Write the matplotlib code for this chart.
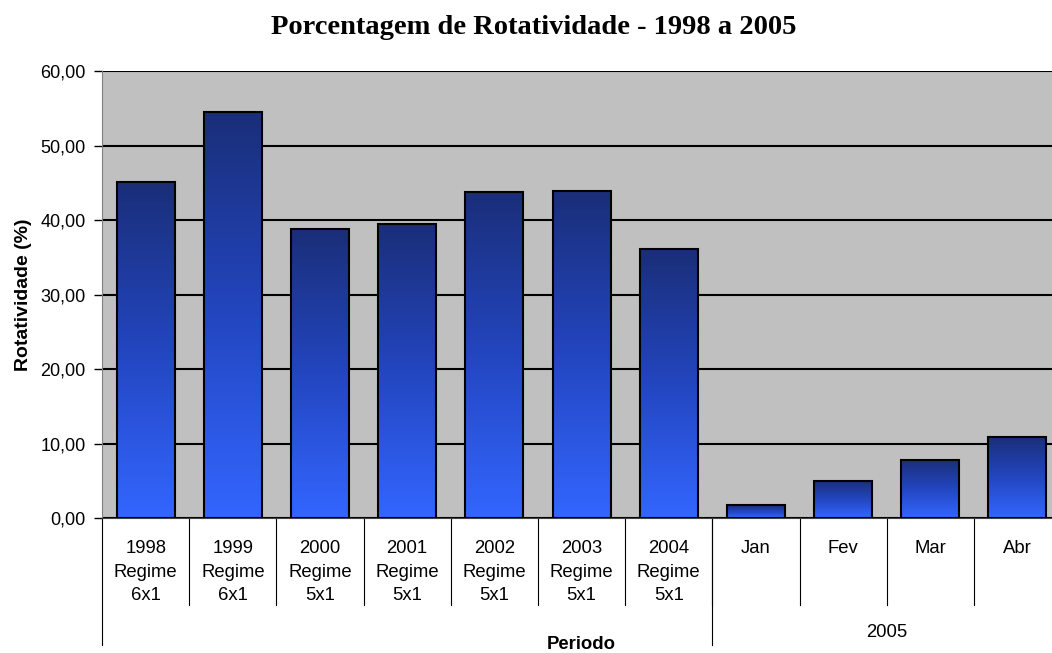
import numpy as np
import matplotlib.pyplot as plt
from matplotlib.colors import LinearSegmentedColormap
from matplotlib.patches import Rectangle
import matplotlib.transforms as mtransforms

# chart data
labels = ["1998\nRegime\n6x1", "1999\nRegime\n6x1", "2000\nRegime\n5x1", "2001\nRegime\n5x1",
          "2002\nRegime\n5x1", "2003\nRegime\n5x1", "2004\nRegime\n5x1",
          "Jan", "Fev", "Mar", "Abr"]
values = [45.1, 54.5, 38.8, 39.5, 43.8, 43.9, 36.1, 1.7, 5.0, 7.8, 10.9]
groups = ["", "2005"]
group_sizes = [7, 4]
yticks = [0, 10, 20, 30, 40, 50, 60]

fig = plt.figure(figsize=(10.52, 6.53), dpi=100)
# plot area runs a bit past the right edge, as in the original
ax = fig.add_axes([0.097, 0.2067, 0.9116, 0.6845])
ax.set_facecolor("#c0c0c0")

x = np.arange(len(values))
w = 0.665
cmap = LinearSegmentedColormap.from_list("bl", ["#3366ff", "#2346c0", "#1a2e78"])
grad = np.linspace(0, 1, 256).reshape(-1, 1)

bars = ax.bar(x, values, width=w, color="none", edgecolor="black", linewidth=1.5, zorder=3)
for b in bars:
    x0, y0 = b.get_x(), b.get_y()
    im = ax.imshow(grad, cmap=cmap, origin="lower", aspect="auto", zorder=2,
                   extent=[x0, x0 + b.get_width(), y0, y0 + b.get_height()])
    im.set_clip_path(Rectangle((x0, y0), b.get_width(), b.get_height(), transform=ax.transData))

ax.set_xlim(-0.5, len(values) - 0.5)
ax.set_ylim(0, 60)
ax.set_yticks(yticks)
ax.set_yticklabels(["%d,00" % t for t in yticks], fontsize=13, family="Liberation Sans")
ax.yaxis.grid(True, color="black", linewidth=1.5, zorder=1)
ax.set_axisbelow(True)
ax.tick_params(axis="y", length=6, width=1, color="black", pad=6)
ax.set_xticks([])
for s in ["top", "right"]:
    ax.spines[s].set_visible(False)
ax.spines["left"].set_color("#808080")
ax.spines["bottom"].set_color("#404040")

ax.set_ylabel("Rotatividade (%)", fontsize=14, fontweight="bold", family="Liberation Sans", labelpad=6)

tr = mtransforms.blended_transform_factory(ax.transData, ax.transAxes)
for i, lab in enumerate(labels):
    ax.text(i, -0.05, lab, transform=tr, ha="center", va="top", fontsize=13.3,
            family="Liberation Sans", linespacing=1.5)

# category separators
for i in range(1, len(values)):
    ax.plot([i - 0.5, i - 0.5], [0, -0.195], transform=tr, color="black", lw=0.8, clip_on=False)

start = 0
for g, n in zip(groups, group_sizes):
    ax.plot([start - 0.5, start - 0.5], [0, -0.284], transform=tr, color="black", lw=0.8, clip_on=False)
    ax.text(start + (n - 1) / 2, -0.257, g, transform=tr, ha="center", va="center",
            fontsize=13.3, family="Liberation Sans")
    start += n

ax.text(0.5, -0.284, "Periodo", transform=ax.transAxes, ha="center", va="center",
        fontsize=13.3, fontweight="bold", family="Liberation Sans")

fig.text(0.507, 0.958, "Porcentagem de Rotatividade - 1998 a 2005", ha="center", va="center",
         fontsize=20.5, fontweight="bold", family="Liberation Serif")

fig.savefig("out.png", dpi=100)
